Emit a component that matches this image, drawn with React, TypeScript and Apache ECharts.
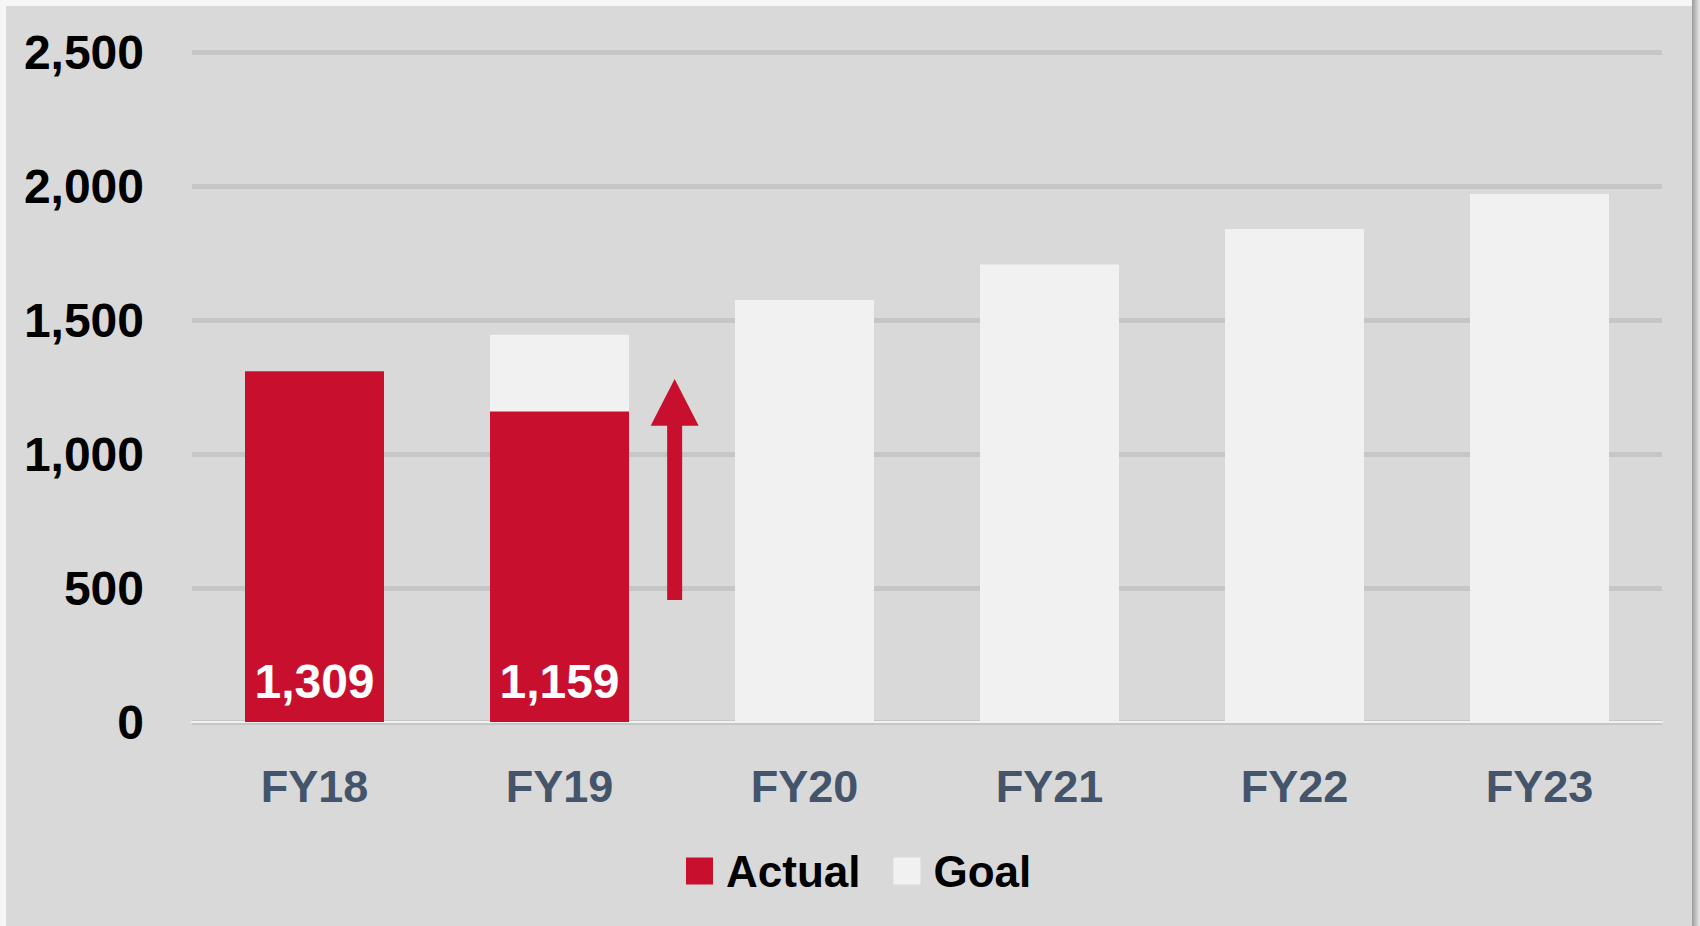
import React, { useEffect, useRef } from "react";
import * as echarts from "echarts";

const categories = ["FY18", "FY19", "FY20", "FY21", "FY22", "FY23"];
const actualValues: (number | null)[] = [1309, 1159, null, null, null, null];
const goalValues: (number | null)[] = [null, 1445, 1575, 1707, 1840, 1970];
const yTicks = { min: 0, max: 2500, interval: 500 };
// arrow annotation: [categoryIndex, fromValue, toValue, headBaseValue]
const arrowData = [[1, 455, 1280, 1105]];

const RED = "#c8102e";
const GOAL = "#f1f1f1";
const FONT = "'Liberation Sans', Arial, sans-serif";

export default function App() {
  const ref = useRef<HTMLDivElement>(null);
  useEffect(() => {
    if (!ref.current) return;
    const chart = echarts.init(ref.current, undefined, { renderer: "svg" });
    chart.setOption({
      animation: false,
      backgroundColor: "#d9d9d9",
      graphic: [
        {
          type: "rect",
          silent: true,
          z: 100,
          shape: { x: 0, y: 0, width: 1700, height: 6 },
          style: { fill: "#f6f6f6" },
        },
        {
          type: "rect",
          silent: true,
          z: 100,
          shape: { x: 0, y: 0, width: 6, height: 926 },
          style: { fill: "#f6f6f6" },
        },
        {
          type: "rect",
          silent: true,
          z: 100,
          shape: { x: 1692, y: 0, width: 8, height: 926 },
          style: {
            fill: {
              type: "linear",
              x: 0,
              y: 0,
              x2: 1,
              y2: 0,
              colorStops: [
                { offset: 0, color: "#9a9a9a" },
                { offset: 1, color: "#ececec" },
              ],
            },
          },
        },
      ],
      grid: { left: 192, right: 38, top: 52, bottom: 204, containLabel: false },
      legend: {
        data: ["Actual", "Goal"],
        left: 681,
        top: 843,
        icon: "rect",
        itemWidth: 27,
        itemHeight: 27,
        itemGap: 33,
        textStyle: {
          fontFamily: FONT,
          fontWeight: "bold",
          fontSize: 44,
          lineHeight: 46,
          color: "#000",
          padding: [0, 0, 0, 8],
        },
      },
      xAxis: {
        type: "category",
        data: categories,
        axisTick: { show: false },
        axisLine: { show: true, lineStyle: { color: "#f2f2f2", width: 2 } },
        axisLabel: {
          margin: 41,
          fontFamily: FONT,
          fontWeight: "bold",
          fontSize: 45,
          lineHeight: 46,
          color: "#44546a",
        },
      },
      yAxis: {
        type: "value",
        min: yTicks.min,
        max: yTicks.max,
        interval: yTicks.interval,
        axisLine: { show: false },
        axisTick: { show: false },
        splitLine: {
          show: true,
          lineStyle: { color: "#c6c6c6", width: 5 },
        },
        axisLabel: {
          margin: 48,
          fontFamily: FONT,
          fontWeight: "bold",
          fontSize: 48,
          color: "#000",
          formatter: (v: number) => v.toLocaleString("en-US"),
        },
      },
      series: [
        {
          name: "Goal",
          type: "bar",
          data: goalValues,
          barWidth: 139,
          itemStyle: { color: GOAL },
          z: 2,
        },
        {
          name: "Actual",
          type: "bar",
          data: actualValues,
          barWidth: 139,
          barGap: "-100%",
          itemStyle: { color: RED },
          z: 3,
          label: {
            show: true,
            position: "insideBottom",
            distance: 17,
            fontFamily: FONT,
            fontWeight: "bold",
            fontSize: 48,
            lineHeight: 48,
            color: "#fff",
            formatter: (p: any) => Number(p.value).toLocaleString("en-US"),
          },
        },
        {
          name: "arrow",
          type: "custom",
          data: arrowData,
          z: 5,
          silent: true,
          renderItem: (params: any, api: any) => {
            const band = api.size([1, 0])[0];
            const c = api.coord([api.value(0), api.value(1)]);
            const x = c[0] + band * 0.47;
            const yBottom = c[1];
            const yTip = api.coord([api.value(0), api.value(2)])[1];
            const yHead = api.coord([api.value(0), api.value(3)])[1];
            const sw = 7.5;
            const hw = 24;
            return {
              type: "polygon",
              shape: {
                points: [
                  [x - sw, yBottom],
                  [x - sw, yHead],
                  [x - hw, yHead],
                  [x, yTip],
                  [x + hw, yHead],
                  [x + sw, yHead],
                  [x + sw, yBottom],
                ],
              },
              style: { fill: RED },
            };
          },
        },
      ],
    });
    return () => chart.dispose();
  }, []);
  return (
    <div
      ref={ref}
      style={{ position: "absolute", left: 0, top: 0, width: 1700, height: 926 }}
    />
  );
}
